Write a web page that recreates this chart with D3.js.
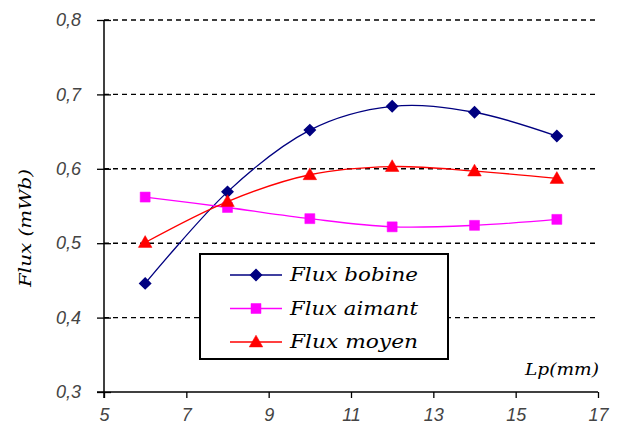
<!DOCTYPE html>
<html>
<head>
<meta charset="utf-8">
<script src="https://cdn.jsdelivr.net/npm/d3@7"></script>
<style>
html,body{margin:0;padding:0;background:#fff;}
svg{display:block;}
</style>
</head>
<body>
<svg id="chart" width="629" height="441"></svg>
<script>
const lp = [6, 8, 10, 12, 14, 16];
const fluxBobine = [0.446, 0.569, 0.652, 0.684, 0.676, 0.644];
const fluxAimant = [0.562, 0.548, 0.533, 0.522, 0.524, 0.532];
const fluxMoyen  = [0.501, 0.556, 0.592, 0.603, 0.597, 0.587];
const xTicks = [5, 7, 9, 11, 13, 15, 17];
const yTicks = [0.3, 0.4, 0.5, 0.6, 0.7, 0.8];
const seriesNames = ["Flux bobine", "Flux aimant", "Flux moyen"];
const xTitle = "Lp(mm)";
const yTitle = "Flux (mWb)";

const series = [
  {name: seriesNames[0], values: fluxBobine, color: "#000080", marker: "diamond"},
  {name: seriesNames[1], values: fluxAimant, color: "#ff00ff", marker: "square"},
  {name: seriesNames[2], values: fluxMoyen,  color: "#ff0000", marker: "triangle"}
];

const svg = d3.select("#chart");
const x = d3.scaleLinear().domain([5, 17]).range([104, 598]);
const y = d3.scaleLinear().domain([0.3, 0.8]).range([392, 20]);

// gridlines
svg.append("g").selectAll("line").data(yTicks.filter(d => d > 0.3)).join("line")
  .attr("x1", x(5)).attr("x2", x(17))
  .attr("y1", d => y(d)).attr("y2", d => y(d))
  .attr("stroke", "#000").attr("stroke-width", 1.4).attr("stroke-dasharray", "5,4");

// y axis
const yAxis = d3.axisLeft(y).tickValues(yTicks).tickSize(7).tickPadding(16)
  .tickFormat(d => d3.format(".1f")(d).replace(".", ","));
const gy = svg.append("g").attr("transform", `translate(${x(5)},0)`).call(yAxis);
gy.select(".domain").attr("stroke", "#000").attr("stroke-width", 1.5).attr("d", `M0,${y(0.8)}V${y(0.3)+6}`);
gy.selectAll(".tick line").attr("x2", -7).attr("x1", 7).attr("stroke", "#000").attr("stroke-width", 1.3);
gy.selectAll(".tick text").attr("font-family", "Liberation Sans, Arial, sans-serif")
  .attr("font-style", "italic").attr("font-size", 18).attr("fill", "#444");

// x axis
const xAxis = d3.axisBottom(x).tickValues(xTicks).tickSize(6).tickPadding(10).tickFormat(d3.format("d"));
const gx = svg.append("g").attr("transform", `translate(0,${y(0.3)})`).call(xAxis);
gx.select(".domain").attr("stroke", "#000").attr("stroke-width", 1.5).attr("d", `M${x(5)-7},0H${x(17)}`);
gx.selectAll(".tick line").attr("stroke", "#000").attr("stroke-width", 1.3);
gx.selectAll(".tick text").attr("font-family", "Liberation Sans, Arial, sans-serif")
  .attr("font-style", "italic").attr("font-size", 18).attr("fill", "#444");

// lines
const line = d3.line().x((d, i) => x(lp[i])).y(d => y(d)).curve(d3.curveCardinal.tension(0));
const markerPath = {
  diamond: d3.symbol().type(d3.symbolDiamond2).size(75),
  square: d3.symbol().type(d3.symbolSquare).size(100),
  triangle: d3.symbol().type(d3.symbolTriangle).size(80)
};
function drawMarker(g, type, color, cx, cy) {
  g.append("path").attr("d", markerPath[type]())
    .attr("transform", `translate(${cx},${cy + (type === "triangle" ? 1 : 0)})`)
    .attr("fill", color).attr("stroke", color).attr("stroke-width", type === "diamond" ? 1.5 : 0.5);
}

series.forEach(s => {
  svg.append("path").datum(s.values).attr("d", line)
    .attr("fill", "none").attr("stroke", s.color).attr("stroke-width", 1.3);
});
series.forEach(s => {
  const g = svg.append("g");
  s.values.forEach((v, i) => drawMarker(g, s.marker, s.color, x(lp[i]), y(v)));
});

// legend
const lg = svg.append("g");
lg.append("rect").attr("x", 200).attr("y", 254).attr("width", 248).attr("height", 105)
  .attr("fill", "#fff").attr("stroke", "#000").attr("stroke-width", 2);
series.forEach((s, i) => {
  const cy = 275 + i * 33.5;
  lg.append("line").attr("x1", 230).attr("x2", 282).attr("y1", cy).attr("y2", cy)
    .attr("stroke", s.color).attr("stroke-width", 1.5);
  drawMarker(lg, s.marker, s.color, 256, cy);
  lg.append("text").attr("x", 290).attr("y", cy + 6).text(s.name)
    .attr("font-family", "DejaVu Serif, serif").attr("font-style", "italic")
    .attr("font-size", 18).attr("fill", "#000")
    .attr("textLength", 128).attr("lengthAdjust", "spacingAndGlyphs");
});

// axis titles
svg.append("text").attr("x", 525).attr("y", 375).text(xTitle)
  .attr("font-family", "DejaVu Serif, serif").attr("font-style", "italic")
  .attr("font-size", 17).attr("fill", "#000")
  .attr("textLength", 74).attr("lengthAdjust", "spacingAndGlyphs");
svg.append("text").attr("transform", "translate(31,228) rotate(-90)")
  .attr("text-anchor", "middle").text(yTitle)
  .attr("font-family", "DejaVu Serif, serif").attr("font-style", "italic")
  .attr("font-size", 17).attr("fill", "#000")
  .attr("textLength", 118).attr("lengthAdjust", "spacingAndGlyphs");
</script>
</body>
</html>
